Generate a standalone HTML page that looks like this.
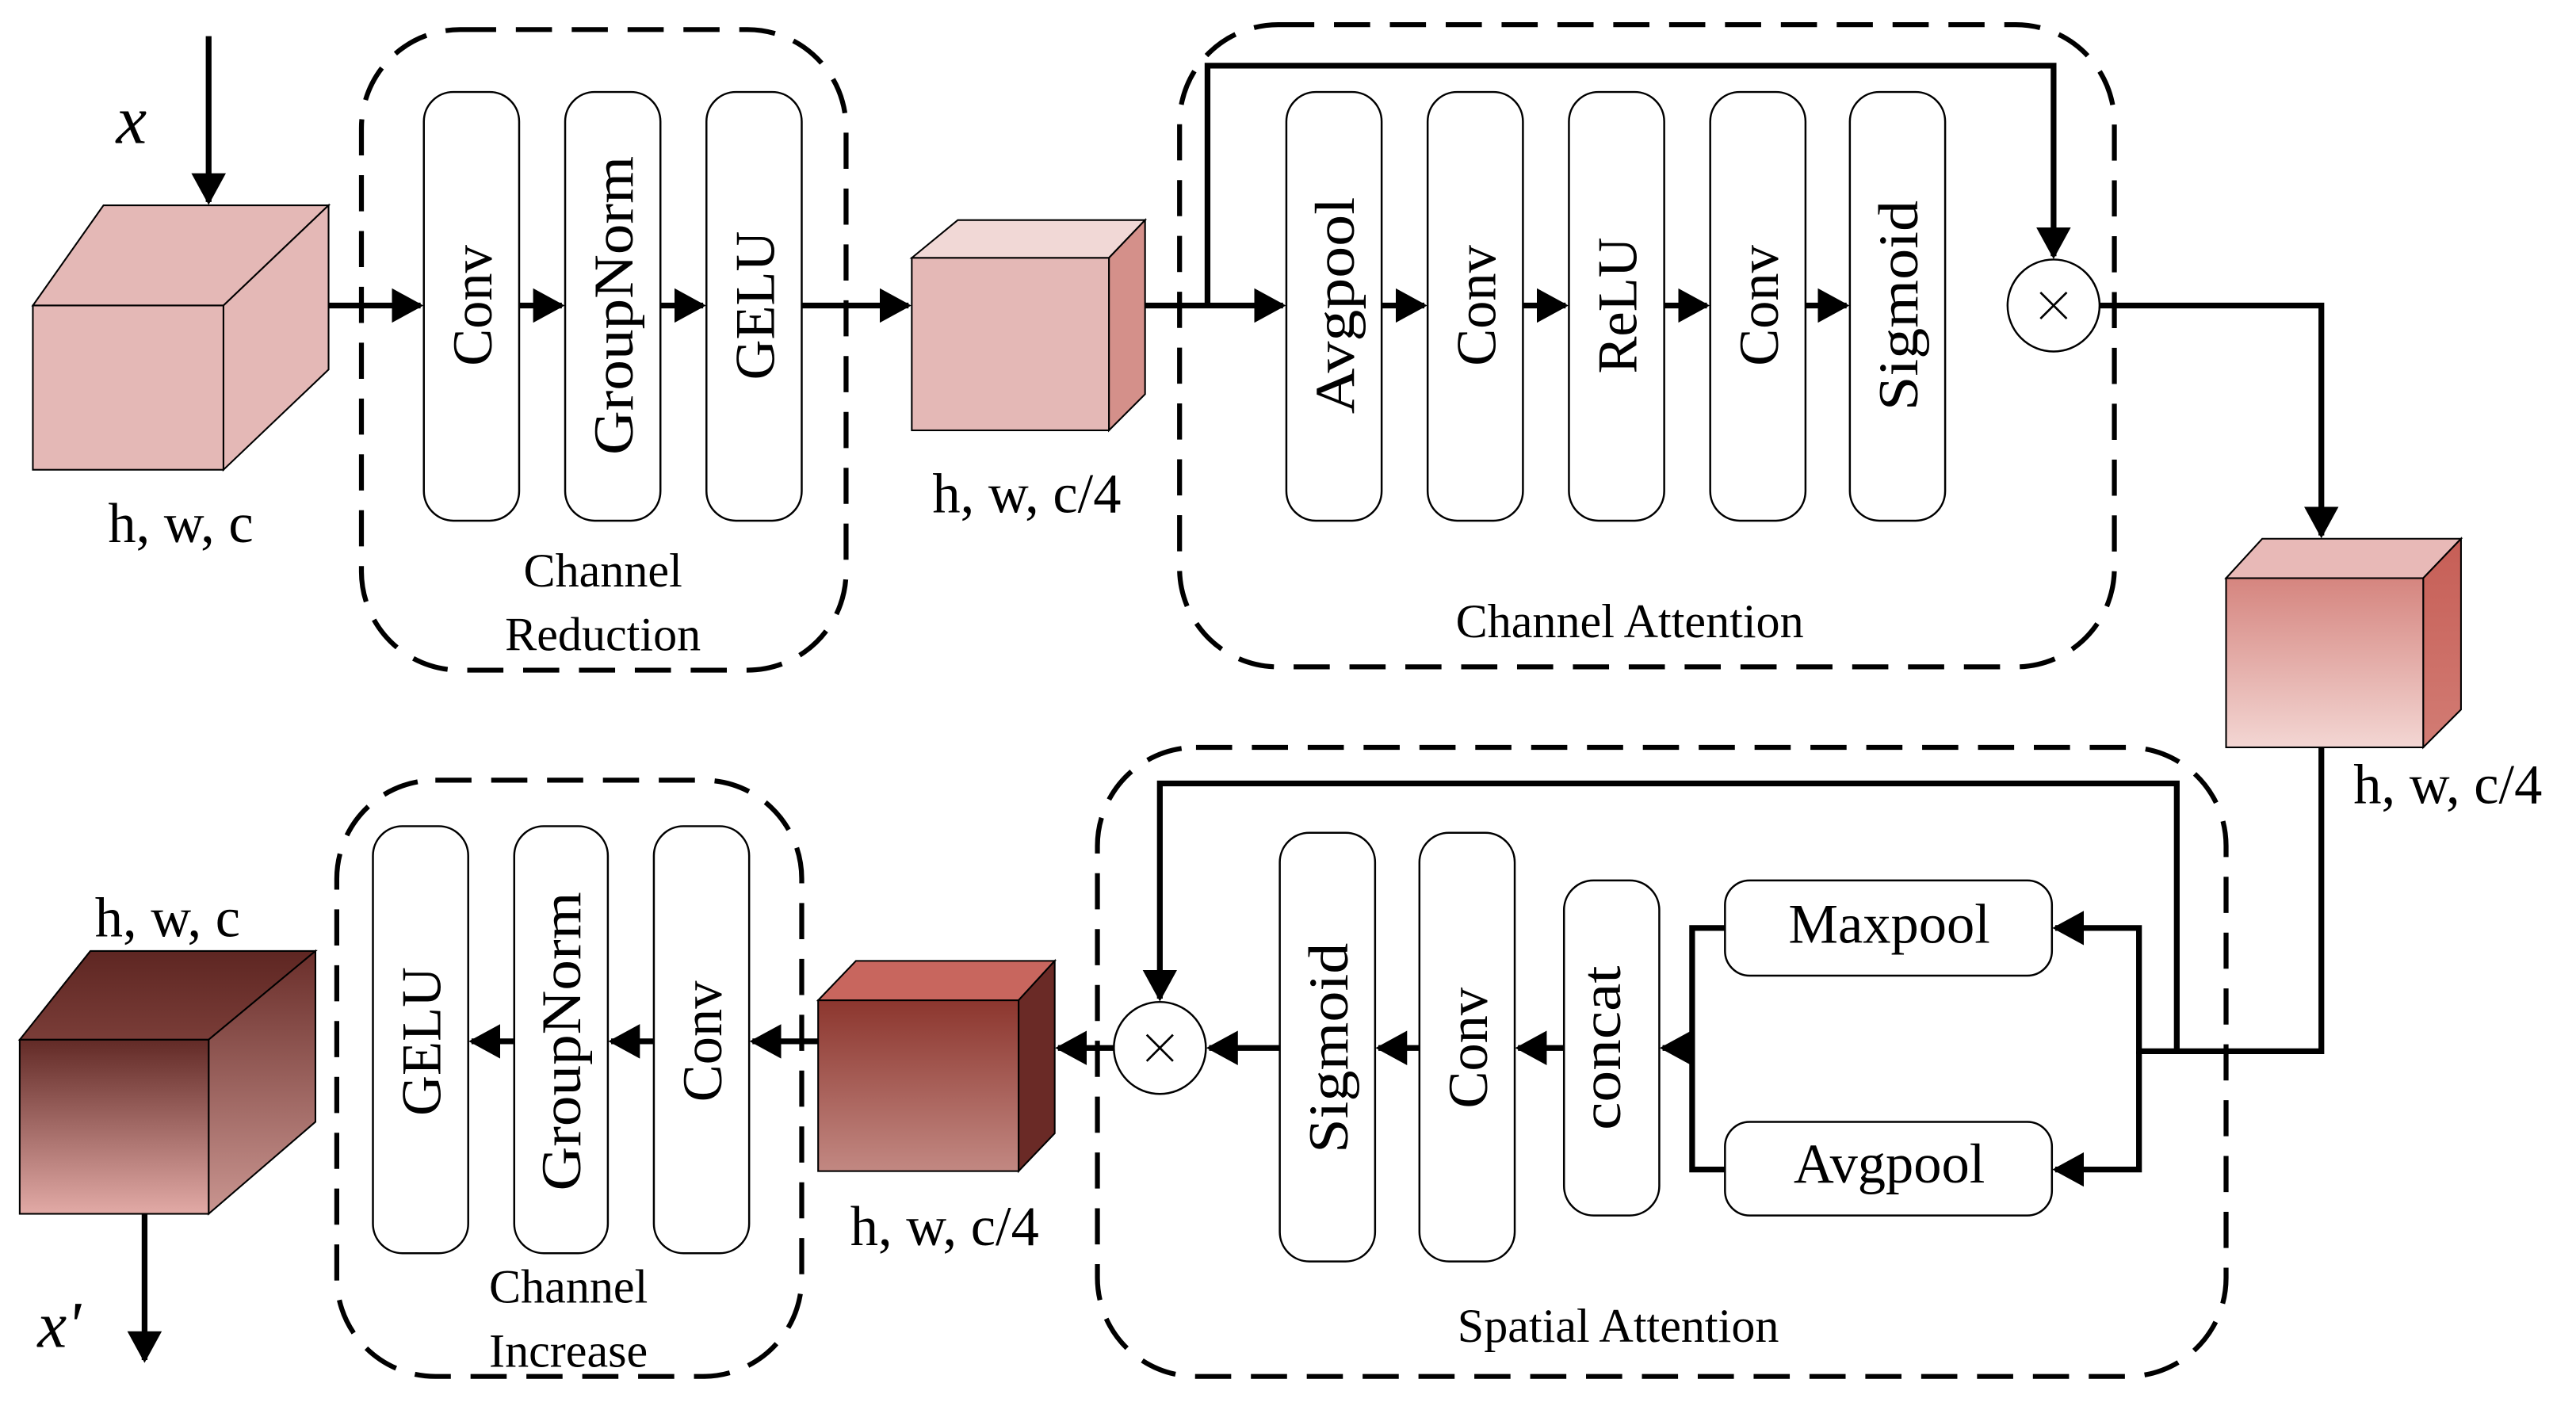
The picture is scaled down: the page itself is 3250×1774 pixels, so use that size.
<!DOCTYPE html>
<html><head><meta charset="utf-8"><style>html,body{margin:0;padding:0;background:#fff}svg{display:block}</style></head>
<body>
<svg width="3250" height="1774" viewBox="0 0 1568 856" preserveAspectRatio="none" xmlns="http://www.w3.org/2000/svg" font-family="'Liberation Serif', serif">
<defs>
<marker id="a" markerWidth="6" markerHeight="6" refX="5" refY="3" orient="auto" markerUnits="strokeWidth"><path d="M0,0 L5.5,3 L0,6 z" fill="#000"/></marker>
<linearGradient id="g3" x1="0" y1="0" x2="0" y2="1"><stop offset="0" stop-color="#d5857f"/><stop offset="1" stop-color="#f3d6d3"/></linearGradient>
<linearGradient id="g3s" x1="0" y1="0" x2="0" y2="1"><stop offset="0" stop-color="#c65e56"/><stop offset="1" stop-color="#d27c74"/></linearGradient>
<linearGradient id="g4" x1="0" y1="0" x2="0" y2="1"><stop offset="0" stop-color="#8c362e"/><stop offset="1" stop-color="#c28882"/></linearGradient>
<linearGradient id="g5" x1="0" y1="0" x2="0" y2="1"><stop offset="0" stop-color="#622a26"/><stop offset="1" stop-color="#e2aaa6"/></linearGradient>
<linearGradient id="g5t" x1="0" y1="0" x2="0" y2="1"><stop offset="0" stop-color="#5e2622"/><stop offset="1" stop-color="#7a3d38"/></linearGradient>
<linearGradient id="g5s" x1="0" y1="0" x2="0" y2="1"><stop offset="0" stop-color="#6a2e2a"/><stop offset="1" stop-color="#c99590"/></linearGradient>
</defs>
<g fill="none" stroke="#000" stroke-width="3" stroke-dasharray="22,12">
<rect x="220" y="18" width="295" height="390" rx="60"/>
<rect x="718" y="15" width="569" height="391" rx="60"/>
<rect x="668" y="455" width="687" height="383" rx="60"/>
<rect x="205" y="475" width="283" height="363" rx="60"/>
</g>
<g stroke="#000" stroke-width="1">
<polygon points="20,186 63,125 200,125 136,186" fill="#e4b8b6"/>
<polygon points="136,186 200,125 200,225 136,286" fill="#e4b8b6"/>
<rect x="20" y="186" width="116" height="100" fill="#e4b8b6"/>
<polygon points="555,157 583,134 697,134 675,157" fill="#f1d8d6"/>
<polygon points="675,157 697,134 697,240 675,262" fill="#d4908a"/>
<rect x="555" y="157" width="120" height="105" fill="#e4b8b6"/>
<polygon points="1355,352 1377,328 1498,328 1475,352" fill="#e8b9b7"/>
<polygon points="1475,352 1498,328 1498,432 1475,455" fill="url(#g3s)"/>
<rect x="1355" y="352" width="120" height="103" fill="url(#g3)"/>
<polygon points="498,609 521,585 642,585 620,609" fill="#c8665e"/>
<polygon points="620,609 642,585 642,690 620,713" fill="#6a2a26"/>
<rect x="498" y="609" width="122" height="104" fill="url(#g4)"/>
<polygon points="12,633 55,579 192,579 127,633" fill="url(#g5t)"/>
<polygon points="127,633 192,579 192,683 127,739" fill="url(#g5s)"/>
<rect x="12" y="633" width="115" height="106" fill="url(#g5)"/>
</g>
<g fill="#fff" stroke="#000" stroke-width="1.2">
<rect x="258" y="56" width="58" height="261" rx="18"/>
<rect x="344" y="56" width="58" height="261" rx="18"/>
<rect x="430" y="56" width="58" height="261" rx="18"/>
<rect x="783" y="56" width="58" height="261" rx="18"/>
<rect x="869" y="56" width="58" height="261" rx="18"/>
<rect x="955" y="56" width="58" height="261" rx="18"/>
<rect x="1041" y="56" width="58" height="261" rx="18"/>
<rect x="1126" y="56" width="58" height="261" rx="18"/>
<rect x="779" y="507" width="58" height="261" rx="18"/>
<rect x="864" y="507" width="58" height="261" rx="18"/>
<rect x="952" y="536" width="58" height="204" rx="18"/>
<rect x="1050" y="536" width="199" height="58" rx="15"/>
<rect x="1050" y="683" width="199" height="57" rx="15"/>
<rect x="227" y="503" width="58" height="260" rx="18"/>
<rect x="313" y="503" width="57" height="260" rx="18"/>
<rect x="398" y="503" width="58" height="260" rx="18"/>
<circle cx="1250" cy="186" r="28"/>
<circle cx="706" cy="638" r="28"/>
</g>
<g stroke="#000" stroke-width="1.3"><path d="M1242,178 l16,16 M1258,178 l-16,16 M698,630 l16,16 M714,630 l-16,16"/></g>
<g fill="none" stroke="#000" stroke-width="3.5" marker-end="url(#a)">
<path d="M127,22 V123"/>
<path d="M200,186 H256"/>
<path d="M316,186 H342"/>
<path d="M402,186 H428"/>
<path d="M488,186 H553"/>
<path d="M697,186 H781"/>
<path d="M735,186 V40 H1250 V156"/>
<path d="M841,186 H867"/>
<path d="M927,186 H953"/>
<path d="M1013,186 H1039"/>
<path d="M1099,186 H1124"/>
<path d="M1278,186 H1413 V326"/>
<path d="M1413,455 V640 H1302 V565 H1251"/>
<path d="M1302,640 V712 H1251"/>
<path d="M1325,640 V477 H706 V608"/>
<path d="M1050,565 H1030 V712 H1050" marker-end="none"/>
<path d="M1030,638 H1012"/>
<path d="M952,638 H924"/>
<path d="M864,638 H839"/>
<path d="M779,638 H736"/>
<path d="M678,638 H644"/>
<path d="M498,634 H458"/>
<path d="M398,634 H372"/>
<path d="M313,634 H287"/>
<path d="M88,739 V828"/>
</g>
<g font-size="34" fill="#000" text-anchor="middle">
<text transform="translate(288,186) rotate(-90)" dominant-baseline="central">Conv</text>
<text transform="translate(374,186) rotate(-90)" dominant-baseline="central" textLength="182" lengthAdjust="spacingAndGlyphs">GroupNorm</text>
<text transform="translate(460,186) rotate(-90)" dominant-baseline="central">GELU</text>
<text transform="translate(813,186) rotate(-90)" dominant-baseline="central" textLength="132" lengthAdjust="spacingAndGlyphs">Avgpool</text>
<text transform="translate(899,186) rotate(-90)" dominant-baseline="central">Conv</text>
<text transform="translate(985,186) rotate(-90)" dominant-baseline="central">ReLU</text>
<text transform="translate(1071,186) rotate(-90)" dominant-baseline="central">Conv</text>
<text transform="translate(1156,186) rotate(-90)" dominant-baseline="central" textLength="128" lengthAdjust="spacingAndGlyphs">Sigmoid</text>
<text transform="translate(809,638) rotate(-90)" dominant-baseline="central" textLength="128" lengthAdjust="spacingAndGlyphs">Sigmoid</text>
<text transform="translate(894,638) rotate(-90)" dominant-baseline="central">Conv</text>
<text transform="translate(975,638) rotate(-90)" dominant-baseline="central" textLength="100" lengthAdjust="spacingAndGlyphs">concat</text>
<text transform="translate(257,634) rotate(-90)" dominant-baseline="central">GELU</text>
<text transform="translate(342,634) rotate(-90)" dominant-baseline="central" textLength="182" lengthAdjust="spacingAndGlyphs">GroupNorm</text>
<text transform="translate(428,634) rotate(-90)" dominant-baseline="central">Conv</text>
<text x="1150" y="574">Maxpool</text>
<text x="1150" y="720">Avgpool</text>
<text x="110" y="330">h, w, c</text>
<text x="625" y="312">h, w, c/4</text>
<text x="1490" y="489">h, w, c/4</text>
<text x="575" y="758">h, w, c/4</text>
<text x="102" y="570">h, w, c</text>
</g>
<g font-size="29" fill="#000" text-anchor="middle">
<text x="367" y="357">Channel</text>
<text x="367" y="396">Reduction</text>
<text x="992" y="388">Channel Attention</text>
<text x="985" y="817">Spatial Attention</text>
<text x="346" y="793">Channel</text>
<text x="346" y="832">Increase</text>
</g>
<text x="80" y="87" font-size="42" font-style="italic" text-anchor="middle">x</text>
<text x="36" y="820" font-size="40" font-style="italic" text-anchor="middle">x'</text>
</svg>
</body></html>
